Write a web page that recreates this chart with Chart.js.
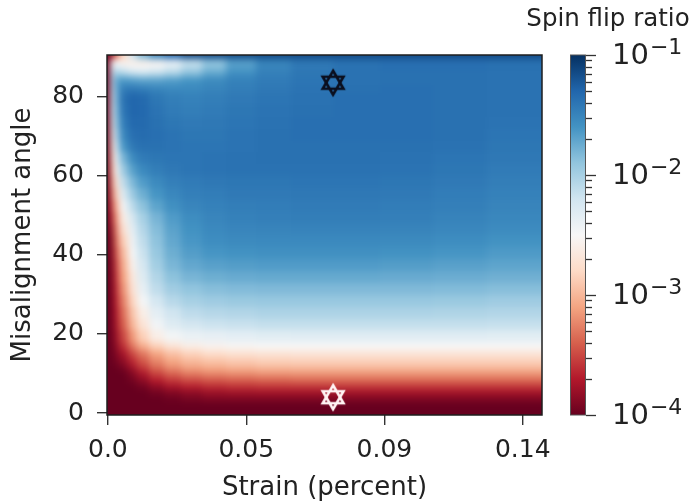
<!DOCTYPE html>
<html>
<head>
<meta charset="utf-8">
<script src="https://cdn.jsdelivr.net/npm/chart.js@4"></script>
<style>
  html, body { margin: 0; padding: 0; background: #fff; }
  canvas { display: block; }
</style>
</head>
<body>
<canvas id="chart" width="696" height="504"></canvas>
<script>
// grid cell edges (strain in percent, misalignment angle in degrees)
const STRAIN_EDGES = [-0.0003, 0.001, 0.002, 0.004, 0.007, 0.010, 0.014, 0.019, 0.025, 0.032, 0.040, 0.050, 0.062, 0.076, 0.092, 0.110, 0.128, 0.1465];
const ANGLE_EDGES = [-0.5, 1.5, 3, 4.5, 6, 7.5, 9, 10.5, 12, 14, 16, 18, 21, 24, 27, 30, 33, 36, 39, 42, 45, 48, 51, 54,
                     57, 60, 63, 66, 69, 72, 75, 78, 81, 83, 85, 86.5, 88, 89.5, 90.5];

// log10(spin flip ratio), one row per angle band (bottom -> top), one value per strain band
const LOG_RATIO = [
  [-4, -4, -4, -4, -4, -4, -4, -4, -4, -4, -4, -4, -4, -4, -4, -4, -4],
  [-4, -4, -4, -4, -4, -4, -4, -4, -4, -4, -4, -4, -4, -4, -4, -4, -4],
  [-4, -4, -4, -4, -4, -4, -4, -3.97, -3.93, -3.9, -3.9, -3.9, -3.9, -3.9, -3.9, -3.9, -3.9],
  [-4, -4, -4, -4, -4, -4, -3.95, -3.9, -3.85, -3.8, -3.78, -3.77, -3.77, -3.77, -3.77, -3.77, -3.77],
  [-4, -4, -4, -4, -4, -3.95, -3.85, -3.75, -3.68, -3.63, -3.6, -3.58, -3.58, -3.58, -3.58, -3.58, -3.58],
  [-4, -4, -4, -4, -3.95, -3.85, -3.7, -3.58, -3.5, -3.45, -3.42, -3.4, -3.38, -3.38, -3.38, -3.38, -3.38],
  [-4, -4, -4, -4, -3.9, -3.75, -3.55, -3.42, -3.32, -3.27, -3.24, -3.21, -3.2, -3.2, -3.2, -3.2, -3.2],
  [-4, -4, -4, -3.95, -3.8, -3.6, -3.4, -3.25, -3.15, -3.1, -3.06, -3.03, -3.02, -3.02, -3.02, -3.02, -3.02],
  [-4, -4, -3.95, -3.85, -3.65, -3.45, -3.25, -3.1, -3.0, -2.95, -2.91, -2.88, -2.87, -2.87, -2.87, -2.87, -2.87],
  [-4, -4, -3.9, -3.75, -3.5, -3.3, -3.1, -2.95, -2.85, -2.78, -2.74, -2.71, -2.7, -2.7, -2.7, -2.7, -2.7],
  [-4, -4, -3.85, -3.6, -3.3, -3.05, -2.85, -2.7, -2.6, -2.55, -2.52, -2.5, -2.5, -2.5, -2.5, -2.5, -2.5],
  [-4, -4, -3.8, -3.5, -3.15, -2.85, -2.6, -2.46, -2.4, -2.37, -2.35, -2.33, -2.32, -2.32, -2.32, -2.32, -2.33],
  [-4, -4, -3.75, -3.4, -3.0, -2.7, -2.45, -2.3, -2.22, -2.18, -2.16, -2.14, -2.14, -2.14, -2.14, -2.14, -2.15],
  [-4, -4, -3.72, -3.33, -2.92, -2.6, -2.35, -2.2, -2.11, -2.07, -2.05, -2.03, -2.03, -2.03, -2.03, -2.04, -2.05],
  [-4, -4, -3.68, -3.25, -2.82, -2.47, -2.23, -2.08, -2.0, -1.96, -1.94, -1.93, -1.93, -1.93, -1.93, -1.94, -1.96],
  [-4, -4, -3.64, -3.17, -2.72, -2.37, -2.12, -1.97, -1.9, -1.86, -1.84, -1.83, -1.83, -1.83, -1.83, -1.84, -1.86],
  [-4, -4, -3.6, -3.1, -2.65, -2.3, -2.05, -1.88, -1.8, -1.76, -1.74, -1.73, -1.73, -1.73, -1.74, -1.75, -1.77],
  [-4, -4, -3.55, -3.04, -2.56, -2.24, -1.98, -1.81, -1.72, -1.68, -1.66, -1.65, -1.65, -1.65, -1.66, -1.68, -1.7],
  [-4, -4, -3.47, -2.96, -2.48, -2.17, -1.93, -1.76, -1.66, -1.61, -1.59, -1.58, -1.58, -1.58, -1.59, -1.61, -1.64],
  [-4, -4, -3.38, -2.85, -2.42, -2.12, -1.89, -1.72, -1.62, -1.56, -1.54, -1.53, -1.53, -1.53, -1.54, -1.56, -1.59],
  [-4, -3.9, -3.3, -2.72, -2.35, -2.06, -1.85, -1.69, -1.59, -1.53, -1.51, -1.5, -1.49, -1.49, -1.5, -1.52, -1.55],
  [-4, -3.75, -3.2, -2.6, -2.25, -2.0, -1.8, -1.65, -1.56, -1.51, -1.48, -1.47, -1.46, -1.46, -1.47, -1.49, -1.52],
  [-4, -3.6, -3.05, -2.45, -2.1, -1.88, -1.7, -1.58, -1.51, -1.48, -1.46, -1.45, -1.44, -1.44, -1.45, -1.47, -1.5],
  [-4, -3.45, -2.88, -2.28, -1.95, -1.76, -1.61, -1.52, -1.47, -1.45, -1.43, -1.43, -1.42, -1.42, -1.43, -1.45, -1.48],
  [-4, -3.3, -2.72, -2.12, -1.82, -1.65, -1.54, -1.47, -1.44, -1.42, -1.41, -1.41, -1.4, -1.4, -1.41, -1.43, -1.46],
  [-4, -3.15, -2.55, -1.95, -1.68, -1.53, -1.46, -1.42, -1.4, -1.39, -1.38, -1.38, -1.38, -1.38, -1.39, -1.41, -1.44],
  [-4, -3.0, -2.38, -1.8, -1.55, -1.44, -1.41, -1.4, -1.4, -1.39, -1.38, -1.37, -1.37, -1.37, -1.38, -1.4, -1.42],
  [-4, -2.85, -2.2, -1.62, -1.42, -1.37, -1.37, -1.39, -1.4, -1.4, -1.39, -1.37, -1.37, -1.37, -1.37, -1.38, -1.41],
  [-4, -2.72, -2.05, -1.52, -1.36, -1.34, -1.36, -1.39, -1.41, -1.41, -1.39, -1.37, -1.36, -1.36, -1.36, -1.37, -1.4],
  [-4, -2.6, -1.92, -1.45, -1.32, -1.33, -1.37, -1.41, -1.43, -1.42, -1.4, -1.38, -1.36, -1.36, -1.36, -1.37, -1.39],
  [-4, -2.5, -1.85, -1.4, -1.3, -1.32, -1.39, -1.44, -1.46, -1.44, -1.41, -1.39, -1.37, -1.36, -1.36, -1.37, -1.38],
  [-4, -2.45, -1.8, -1.38, -1.3, -1.33, -1.41, -1.46, -1.48, -1.46, -1.43, -1.4, -1.38, -1.36, -1.36, -1.37, -1.38],
  [-4, -2.4, -1.75, -1.45, -1.42, -1.45, -1.5, -1.53, -1.53, -1.5, -1.46, -1.42, -1.39, -1.37, -1.36, -1.37, -1.38],
  [-4, -2.35, -1.72, -1.62, -1.65, -1.68, -1.68, -1.65, -1.6, -1.54, -1.48, -1.44, -1.4, -1.38, -1.37, -1.37, -1.38],
  [-4, -2.3, -1.9, -2.0, -2.1, -2.15, -2.1, -2.0, -1.85, -1.7, -1.56, -1.47, -1.41, -1.38, -1.37, -1.37, -1.38],
  [-4, -2.35, -2.2, -2.35, -2.45, -2.45, -2.4, -2.25, -2.05, -1.85, -1.65, -1.5, -1.42, -1.38, -1.36, -1.36, -1.37],
  [-4, -2.6, -2.5, -2.6, -2.6, -2.6, -2.55, -2.4, -2.15, -1.9, -1.68, -1.5, -1.42, -1.38, -1.36, -1.36, -1.37],
  [-4, -3.8, -3.4, -2.8, -2.2, -1.8, -1.5, -1.3, -1.15, -1.15, -1.15, -1.15, -1.15, -1.15, -1.15, -1.15, -1.15]
];

// marked points
const STAR_STRAIN = [0.076, 0.076];
const STAR_ANGLE = [83.5, 4];

const X_TICKS = [0, 0.0467, 0.0933, 0.14];
const X_TICK_LABELS = ['0.0', '0.05', '0.09', '0.14'];
const Y_TICKS = [0, 20, 40, 60, 80];
const CB_EXPONENTS = [-1, -2, -3, -4];
const LOG_MIN = -4, LOG_MAX = -1;

const RDBU = ['#67001f', '#b2182b', '#d6604d', '#f4a582', '#fddbc7', '#f7f7f7',
              '#d1e5f0', '#92c5de', '#4393c3', '#2166ac', '#053061'];

const hexRgb = h => [1, 3, 5].map(i => parseInt(h.slice(i, i + 2), 16));

const rdbu = (v) => {
  let t = (v - LOG_MIN) / (LOG_MAX - LOG_MIN);
  t = Math.min(1, Math.max(0, t));
  const p = t * 10, i = Math.min(9, Math.floor(p)), f = p - i;
  const a = hexRgb(RDBU[i]), b = hexRgb(RDBU[i + 1]);
  return 'rgb(' + a.map((c, k) => Math.round(c + (b[k] - c) * f)).join(',') + ')';
};

// six pointed star used as point style
const hexagram = (stroke, lw, r) => {
  const size = Math.ceil(2 * r + lw * 2 + 2);
  const c = document.createElement('canvas');
  c.width = c.height = size;
  const g = c.getContext('2d');
  g.strokeStyle = stroke;
  g.lineWidth = lw;
  g.lineJoin = 'miter';
  [-Math.PI / 2, Math.PI / 2].forEach(a0 => {
    g.beginPath();
    for (let k = 0; k < 3; k++) {
      const a = a0 + k * 2 * Math.PI / 3;
      const px = size / 2 + r * Math.cos(a), py = size / 2 + r * Math.sin(a);
      if (k) g.lineTo(px, py); else g.moveTo(px, py);
    }
    g.closePath();
    g.stroke();
  });
  return c;
};

const heatmap = {
  id: 'heatmap',
  beforeDatasetsDraw(chart) {
    const {ctx, chartArea: area, scales: {x, y}} = chart;
    const off = document.createElement('canvas');
    off.width = chart.width;
    off.height = chart.height;
    const g = off.getContext('2d');
    const nr = LOG_RATIO.length;
    for (let r = 0; r < nr; r++) {
      let top = y.getPixelForValue(ANGLE_EDGES[r + 1]);
      let bot = y.getPixelForValue(ANGLE_EDGES[r]);
      if (r === 0) bot += 14;
      if (r === nr - 1) top -= 14;
      const row = LOG_RATIO[r];
      for (let c = 0; c < row.length; c++) {
        let l = x.getPixelForValue(STRAIN_EDGES[c]);
        let rt = x.getPixelForValue(STRAIN_EDGES[c + 1]);
        if (c === 0) l -= 14;
        if (c === row.length - 1) rt += 14;
        g.fillStyle = rdbu(row[c]);
        g.fillRect(Math.floor(l), Math.floor(top), Math.ceil(rt) - Math.floor(l), Math.ceil(bot) - Math.floor(top));
      }
    }
    ctx.save();
    ctx.beginPath();
    ctx.rect(area.left, area.top, area.right - area.left, area.bottom - area.top);
    ctx.clip();
    ctx.filter = 'blur(3.5px)';
    ctx.drawImage(off, 0, 0);
    ctx.restore();
  },
  afterDraw(chart) {
    const {ctx, chartArea: area, scales: {cb}} = chart;
    ctx.save();
    // frame
    ctx.strokeStyle = '#1e1e1e';
    ctx.lineWidth = 1.5;
    ctx.strokeRect(area.left, area.top, area.right - area.left, area.bottom - area.top);

    // x axis title
    ctx.fillStyle = '#222';
    ctx.textAlign = 'center';
    ctx.textBaseline = 'middle';
    ctx.font = '26px "DejaVu Sans"';
    ctx.fillText('Strain (percent)', (area.left + area.right) / 2, 488);

    // colour bar
    const bx = cb.left - 16, bw = 16;
    const grad = ctx.createLinearGradient(0, cb.bottom, 0, cb.top);
    RDBU.forEach((c, i) => grad.addColorStop(i / 10, c));
    ctx.fillStyle = grad;
    ctx.fillRect(bx, cb.top, bw, cb.bottom - cb.top);
    ctx.strokeStyle = '#555';
    ctx.lineWidth = 1;
    ctx.strokeRect(bx + 0.5, cb.top, bw - 1, cb.bottom - cb.top);

    ctx.strokeStyle = '#333';
    ctx.lineWidth = 1.3;
    for (let e = LOG_MIN; e <= LOG_MAX; e++) {
      for (let k = 1; k <= 9; k++) {
        const v = k * Math.pow(10, e);
        if (v > Math.pow(10, LOG_MAX) * 1.0001) break;
        const py = Math.round(cb.getPixelForValue(v)) + 0.5;
        ctx.beginPath();
        ctx.moveTo(cb.left, py);
        ctx.lineTo(cb.left + (k === 1 ? 10 : 6), py);
        ctx.stroke();
      }
    }

    ctx.fillStyle = '#222';
    ctx.textAlign = 'left';
    CB_EXPONENTS.forEach(e => {
      const py = cb.getPixelForValue(Math.pow(10, e));
      const lx = cb.left + 26;
      ctx.font = '29px "DejaVu Sans"';
      ctx.fillText('10', lx, py + 1);
      const w = ctx.measureText('10').width;
      ctx.font = '22px "DejaVu Sans"';
      ctx.fillText('\u2212' + (-e), lx + w + 1, py - 7);
    });

    ctx.font = '24.5px "DejaVu Sans"';
    ctx.textAlign = 'center';
    ctx.fillText('Spin flip ratio', 608, 20);
    ctx.restore();
  }
};

const tickFont = {family: 'DejaVu Sans', size: 25};
const titleFont = {family: 'DejaVu Sans', size: 26};

const chart = new Chart(document.getElementById('chart'), {
  type: 'scatter',
  data: {
    datasets: [{
      data: STAR_STRAIN.map((s, i) => ({x: s, y: STAR_ANGLE[i]})),
      pointStyle: [hexagram('#0b0f1e', 2.6, 12), hexagram('#fff4f4', 2.6, 12)],
      pointRadius: 13,
      clip: false
    }]
  },
  options: {
    responsive: false,
    animation: false,
    layout: {padding: {top: 55, left: 0, right: 0, bottom: 0}},
    plugins: {legend: {display: false}, tooltip: {enabled: false}},
    scales: {
      x: {
        type: 'linear',
        min: STRAIN_EDGES[0],
        max: STRAIN_EDGES[STRAIN_EDGES.length - 1],
        afterBuildTicks: s => { s.ticks = X_TICKS.map(v => ({value: v})); },
        afterFit: s => { s.height = 89; },
        ticks: {
          callback: (v, i) => X_TICK_LABELS[i],
          font: tickFont, color: '#222', padding: 10, maxRotation: 0
        },
        grid: {drawOnChartArea: false, tickLength: 10, color: '#333', lineWidth: 1.4},
        border: {display: false}
      },
      y: {
        type: 'linear',
        min: ANGLE_EDGES[0],
        max: ANGLE_EDGES[ANGLE_EDGES.length - 1],
        afterBuildTicks: s => { s.ticks = Y_TICKS.map(v => ({value: v})); },
        afterFit: s => { s.width = 107; },
        ticks: {font: tickFont, color: '#222', padding: 13},
        grid: {drawOnChartArea: false, tickLength: 10, color: '#333', lineWidth: 1.4},
        border: {display: false},
        title: {display: true, text: 'Misalignment angle', font: titleFont, color: '#222', padding: {top: 8, bottom: 0}}
      },
      gap: {
        axis: 'y', position: 'right', weight: 0, min: 0, max: 1,
        ticks: {display: false}, grid: {display: false}, border: {display: false},
        afterFit: s => { s.width = 44; }
      },
      cb: {
        axis: 'y', type: 'logarithmic', position: 'right', weight: 1,
        min: Math.pow(10, LOG_MIN), max: Math.pow(10, LOG_MAX),
        ticks: {display: false}, grid: {display: false}, border: {display: false},
        afterFit: s => { s.width = 110; }
      }
    }
  },
  plugins: [heatmap]
});
</script>
</body>
</html>
